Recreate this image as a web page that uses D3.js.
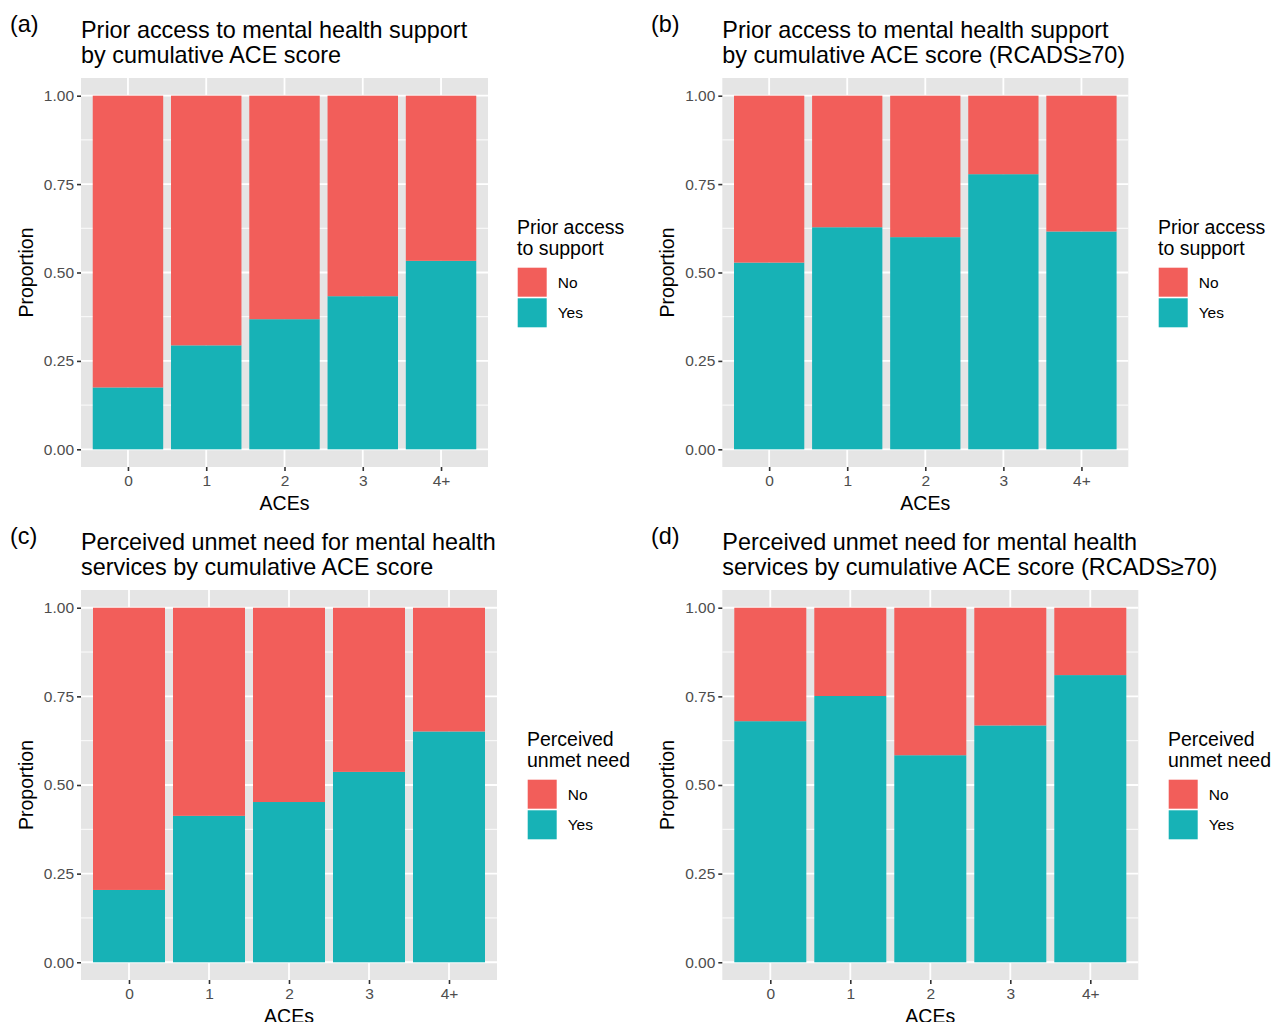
<!DOCTYPE html>
<html><head><meta charset="utf-8">
<script src="https://cdn.jsdelivr.net/npm/d3@7"></script>
<style>
body{margin:0;background:#fff;}
svg{display:block;font-family:"Liberation Sans",Arial,Helvetica,sans-serif;}
</style>
</head><body>
<svg id="chart" width="1271" height="1022"></svg>
<script>
// ---------------- data ----------------
const categories = ["0", "1", "2", "3", "4+"];
const fillLevels = ["No", "Yes"];
// proportion "Yes" in each ACE group (No = 1 - Yes)
const yesAccessAll   = [0.175, 0.294, 0.368, 0.433, 0.533];
const yesAccessRcads = [0.528, 0.628, 0.600, 0.778, 0.616];
const yesUnmetAll    = [0.204, 0.413, 0.452, 0.537, 0.651];
const yesUnmetRcads  = [0.680, 0.751, 0.584, 0.668, 0.810];
const yTickValues = [0, 0.25, 0.5, 0.75, 1];
const yMinorValues = [0.125, 0.375, 0.625, 0.875];
const panelTags = ["(a)", "(b)", "(c)", "(d)"];
const titleA = ["Prior access to mental health support", "by cumulative ACE score"];
const titleB = ["Prior access to mental health support", "by cumulative ACE score (RCADS\u226570)"];
const titleC = ["Perceived unmet need for mental health", "services by cumulative ACE score"];
const titleD = ["Perceived unmet need for mental health", "services by cumulative ACE score (RCADS\u226570)"];
const legendAccess = ["Prior access", "to support"];
const legendUnmet = ["Perceived", "unmet need"];
const xAxisTitle = "ACEs";
const yAxisTitle = "Proportion";

// ---------------- style / layout ----------------
const colors = { No: "#F25E5A", Yes: "#17B2B6" };
const panelBg = "#E5E5E5";
const svg = d3.select("#chart");

const panels = [
  { values: yesAccessAll,   tag: panelTags[0], title: titleA, legend: legendAccess, box: { x0: 81,    x1: 488,    y0: 78,  y1: 467 }, tagX: 10,  legendX: 517,  yTitleX: 26 },
  { values: yesAccessRcads, tag: panelTags[1], title: titleB, legend: legendAccess, box: { x0: 722.3, x1: 1128.3, y0: 78,  y1: 467 }, tagX: 651, legendX: 1158, yTitleX: 667 },
  { values: yesUnmetAll,    tag: panelTags[2], title: titleC, legend: legendUnmet,  box: { x0: 81,    x1: 497,    y0: 590, y1: 980 }, tagX: 10,  legendX: 527,  yTitleX: 26 },
  { values: yesUnmetRcads,  tag: panelTags[3], title: titleD, legend: legendUnmet,  box: { x0: 722.3, x1: 1138.3, y0: 590, y1: 980 }, tagX: 651, legendX: 1168, yTitleX: 667 }
];

function drawPanel(p) {
  const b = p.box;
  const g = svg.append("g");
  const x = d3.scaleLinear().domain([0.4, categories.length + 0.6]).range([b.x0, b.x1]);
  const y = d3.scaleLinear().domain([-0.05, 1.05]).range([b.y1, b.y0]);

  // panel background
  g.append("rect").attr("x", b.x0).attr("y", b.y0)
    .attr("width", b.x1 - b.x0).attr("height", b.y1 - b.y0).attr("fill", panelBg);

  // grid
  g.selectAll(".minor").data(yMinorValues).join("line")
    .attr("x1", b.x0).attr("x2", b.x1).attr("y1", d => y(d)).attr("y2", d => y(d))
    .attr("stroke", "#fff").attr("stroke-width", 0.9);
  g.selectAll(".major").data(yTickValues).join("line")
    .attr("x1", b.x0).attr("x2", b.x1).attr("y1", d => y(d)).attr("y2", d => y(d))
    .attr("stroke", "#fff").attr("stroke-width", 1.8);
  g.selectAll(".vmajor").data(categories).join("line")
    .attr("x1", (d, i) => x(i + 1)).attr("x2", (d, i) => x(i + 1))
    .attr("y1", b.y0).attr("y2", b.y1)
    .attr("stroke", "#fff").attr("stroke-width", 1.8);

  // stacked bars
  const rows = p.values.map((v, i) => ({ cat: categories[i], idx: i + 1, Yes: v, No: 1 - v }));
  const stacked = d3.stack().keys(["Yes", "No"])(rows);
  stacked.forEach(layer => {
    g.append("g").selectAll("rect").data(layer).join("rect")
      .attr("x", d => x(d.data.idx - 0.45))
      .attr("width", d => x(d.data.idx + 0.45) - x(d.data.idx - 0.45))
      .attr("y", d => y(d[1]))
      .attr("height", d => y(d[0]) - y(d[1]))
      .attr("fill", colors[layer.key]);
  });

  // axes
  const yAxis = d3.axisLeft(y).tickValues(yTickValues).tickFormat(d3.format(".2f"))
    .tickSize(4).tickPadding(3);
  const ya = g.append("g").attr("transform", `translate(${b.x0},0)`).call(yAxis);
  const xAxis = d3.axisBottom(x).tickValues(categories.map((c, i) => i + 1))
    .tickFormat(d => categories[d - 1]).tickSize(4).tickPadding(4);
  const xa = g.append("g").attr("transform", `translate(0,${b.y1})`).call(xAxis);
  [ya, xa].forEach(a => {
    a.select(".domain").remove();
    a.selectAll(".tick line").attr("stroke", "#333").attr("stroke-width", 1.6);
    a.selectAll(".tick text").attr("fill", "#4D4D4D").style("font-size", "15.5px")
      .style("font-family", "Liberation Sans, Arial, sans-serif");
  });

  // axis titles
  g.append("text").attr("x", (b.x0 + b.x1) / 2).attr("y", b.y1 + 42.5)
    .attr("text-anchor", "middle").style("font-size", "19.5px").attr("fill", "#000").text(xAxisTitle);
  g.append("text").attr("transform", `translate(${p.yTitleX + 7},${(b.y0 + b.y1) / 2}) rotate(-90)`)
    .attr("text-anchor", "middle").style("font-size", "19.5px").attr("fill", "#000").text(yAxisTitle);

  // title and tag
  p.title.forEach((line, i) => {
    g.append("text").attr("x", b.x0).attr("y", b.y0 - 40 + i * 24.5)
      .style("font-size", "23.4px").attr("fill", "#000").text(line);
  });
  g.append("text").attr("x", p.tagX).attr("y", b.y0 - 46)
    .style("font-size", "23.4px").attr("fill", "#000").text(p.tag);

  // legend
  const lg = g.append("g").attr("transform", `translate(${p.legendX},${b.y0})`);
  p.legend.forEach((line, i) => {
    lg.append("text").attr("x", 0).attr("y", 156.3 + i * 20.5)
      .style("font-size", "19.5px").attr("fill", "#000").text(line);
  });
  fillLevels.forEach((lev, i) => {
    lg.append("rect").attr("x", 0.7).attr("y", 189.7 + i * 30.6)
      .attr("width", 29).attr("height", 29).attr("fill", colors[lev]);
    lg.append("text").attr("x", 40.7).attr("y", 209.5 + i * 30.8)
      .style("font-size", "15.5px").attr("fill", "#000").text(lev);
  });
}

panels.forEach(drawPanel);
</script>
</body></html>
